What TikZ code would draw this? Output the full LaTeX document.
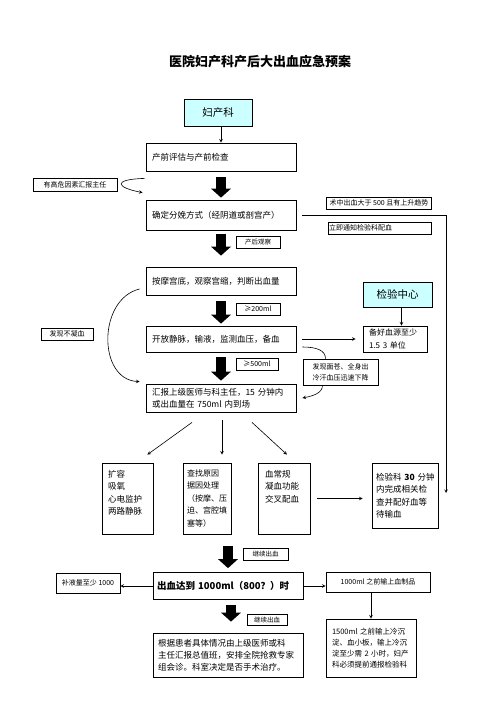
\documentclass[tikz,border=0pt]{standalone}
\usepackage{fontspec}
\setmainfont{Noto Sans CJK SC}
\usetikzlibrary{arrows.meta}
\definecolor{labcyan}{RGB}{204,255,255}

\begin{document}
\begin{tikzpicture}[
        x=1pt, y=-1pt,
        block/.style={
            rectangle,
            draw=black,
            line width=0.8pt,
            text width=138pt,
            minimum height=28pt,
            inner xsep=6pt,
            align=left,
            font=\fontsize{8.5}{12}\selectfont
        },
        colbox/.style={
            rectangle,
            draw=black,
            line width=0.8pt,
            minimum height=71pt,
            inner xsep=6pt,
            align=left,
            font=\fontsize{8.5}{12.5}\selectfont
        },
        tag/.style={
            rectangle,
            draw=black,
            fill=white,
            line width=0.7pt,
            inner sep=1pt,
            minimum height=12pt,
            align=center,
            font=\fontsize{6.5}{11}\selectfont
        },
        dept/.style={
            rectangle,
            draw=black,
            line width=0.8pt,
            fill=labcyan,
            font=\fontsize{10.5}{12}\selectfont
        },
        arrow/.style={semithick,->,>=stealth},
        bigarrow/.style={line width=10pt,-{Triangle[width=20pt,length=9pt,line width=0pt]}}
    ]

    \useasboundingbox (0,0) rectangle (496,702);

    % Title
    \node (title) at (260,62) {\fontsize{13}{15}\selectfont\bfseries 医院妇产科产后大出血应急预案};

    % Nodes
    \node (gyn) [dept, minimum width=68pt, minimum height=27pt] at (218,112.5) {妇产科};

    \node (prenatal) [block] at (221,157) {产前评估与产前检查};

    \node (delivery) [block, minimum height=30pt] at (221,215) {确定分娩方式（经阴道或剖宫产）};

    \node (massage) [block] at (221,281) {按摩宫底，观察宫缩，判断出血量};

    \node (venous) [block, minimum height=26pt] at (221,339) {开放静脉，输液，监测血压，备血};

    \node (report) [block] at (221,398) {汇报上级医师与科主任，15 分钟内\\或出血量在 750ml 内到场};

    \node (expand) [colbox, text width=39pt] at (127.5,498.5) {扩容\\吸氧\\心电监护\\两路静脉\\~};

    \node (find) [colbox, text width=40pt, inner xsep=4pt, font=\fontsize{8}{12.5}\selectfont] at (207,498.5) {查找原因\\据因处理\\（按摩、压\\迫、宫腔填\\塞等）};

    \node (blood) [colbox, text width=38pt, inner xsep=7pt] at (284,498.5) {血常规\\凝血功能\\交叉配血\\~\\~};

    \node (labtest) [colbox, text width=58pt, inner xsep=4pt, minimum height=65pt] at (405,495.5) {\mbox{检验科 \textbf{30} 分钟}\\内完成相关检\\查并配好血等\\待输血};

    \node (bleed) [block, text width=142pt, inner xsep=4pt, minimum height=27pt, font=\fontsize{9.5}{12}\selectfont\bfseries] at (228,586) {\mbox{出血达到 1000ml（800？）时}};

    \node (rescue) [block, text width=140pt, inner xsep=5pt, minimum height=44pt] at (228,655) {根据患者具体情况由上级医师或科\\主任汇报总值班，安排全院抢救专家\\组会诊。科室决定是否手术治疗。};

    \node (transfuse) [block, text width=78pt, minimum height=58pt, font=\fontsize{7.5}{11}\selectfont] at (371,648) {1500ml 之前输上冷沉\\淀、血小板，输上冷沉\\淀至少需 2 小时，妇产\\科必须提前通报检验科};

    \node (labcenter) [dept, minimum width=69pt, minimum height=25pt] at (397.5,294.5) {检验中心};

    \node (reserve) [block, text width=52pt, minimum height=26pt, inner ysep=1pt, font=\fontsize{8}{13}\selectfont] at (395,339) {备好血源至少\\1.5 3 单位};

    % Notes
    \node (highrisk) [tag, minimum width=84pt, minimum height=13pt, font=\fontsize{7}{11}\selectfont] at (75,184.5) {有高危因素汇报主任};
    \node (bleed500) [tag, minimum width=105pt, font=\fontsize{7}{11}\selectfont] at (379,203) {术中出血大于 500 且有上升趋势};
    \node (notify) [tag, text width=101pt, align=left, font=\fontsize{7}{11}\selectfont] at (379.5,228) {立即通知检验科配血};
    \node (observe) [tag, minimum width=44pt] at (258,242) {产后观察};
    \node (ge200) [tag, minimum width=44pt, font=\fontsize{7}{11}\selectfont] at (258,309) {≥200ml};
    \node (ge500) [tag, minimum width=42pt, font=\fontsize{7}{11}\selectfont] at (257,364) {≥500ml};
    \node (nonclot) [tag, minimum width=52pt, font=\fontsize{7}{11}\selectfont] at (67,334) {发现不凝血};
    \node (shock) [tag, minimum width=75pt, minimum height=26pt, font=\fontsize{7}{11}\selectfont] at (340.5,372) {发现面苍、全身出\\冷汗血压迅速下降};
    \node (cont1) [tag, minimum width=45pt] at (265.5,554) {继续出血};
    \node (cont2) [tag, minimum width=40pt, minimum height=11pt] at (267,620) {继续出血};
    \node (fluid) [tag, minimum width=64pt, minimum height=20pt, font=\fontsize{7}{11}\selectfont] at (88,583) {补液量至少 1000};
    \node (before) [tag, minimum width=104pt, minimum height=20pt, font=\fontsize{7}{11}\selectfont] at (378,582) {1000ml 之前输上血制品};

    \coordinate (labend) at (446,493);

    % Arrows
    \draw[arrow] ([xshift=3pt]gyn.south) -- ([xshift=3pt]gyn.south |- prenatal.north);
    \draw[bigarrow] ([yshift=-6pt]prenatal.south) -- ([yshift=2pt]delivery.north);
    \draw[bigarrow] ([yshift=-4pt]delivery.south) -- ([yshift=11pt]massage.north);
    \draw[bigarrow] ([yshift=-6pt]massage.south) -- ([yshift=2pt]venous.north);
    \draw[bigarrow] ([yshift=-5pt]venous.south) -- ([yshift=3pt]report.north);
    \draw[bigarrow] ([yshift=26pt]bleed.north) -- ([yshift=4pt]bleed.north);
    \draw[bigarrow] ([xshift=3pt,yshift=-5pt]bleed.south) -- ([xshift=3pt,yshift=11pt]rescue.north);

    \draw[arrow] ([shift={(-1,7)}]prenatal.south west) .. controls +(-33,1) and +(-26,-5) .. ([shift={(-3,-7)}]delivery.north west);
    \draw[arrow] ([xshift=6pt]delivery.east) -- (delivery.east -| labend) -- (labend);

    \draw[arrow] ([xshift=4pt]labcenter.south) -- ([xshift=4pt]labcenter.south |- reserve.north);
    \draw[arrow] ([xshift=6pt]venous.east) -- ([xshift=-7pt]venous.east -| reserve.west);

    \draw[arrow] ([shift={(-6,8)}]massage.west) .. controls +(-42,10) and +(-42,-2) .. ([shift={(-6,-2)}]report.north west);

    \draw[semithick] ([shift={(6,8)}]venous.east) .. controls +(15,0) and +(0,-8) .. ([xshift=-15pt]shock.north);
    \draw[arrow] ([xshift=-18pt]shock.south) .. controls +(0,8) and +(10,-2) .. ([xshift=6pt]report.east);

    \draw[arrow] ([shift={(-29,10)}]report.south) -- ([shift={(-6,-8)}]expand.north east);
    \draw[arrow] ([shift={(1,8)}]report.south) -- ([shift={(1,-8)}]report.south |- find.north);
    \draw[arrow] ([shift={(31,10)}]report.south) -- ([shift={(3,-8)}]blood.north);

    \draw[arrow] ([xshift=7pt]blood.east) -- ([xshift=-9pt]blood.east -| labtest.west);

    \draw[arrow] (bleed.west) -- (bleed.west -| fluid.east);
    \draw[arrow] (bleed.east) -- (bleed.east -| before.west);
    \draw[arrow] (transfuse.north |- before.south) -- (transfuse.north);

    \end{tikzpicture}
\end{document}
